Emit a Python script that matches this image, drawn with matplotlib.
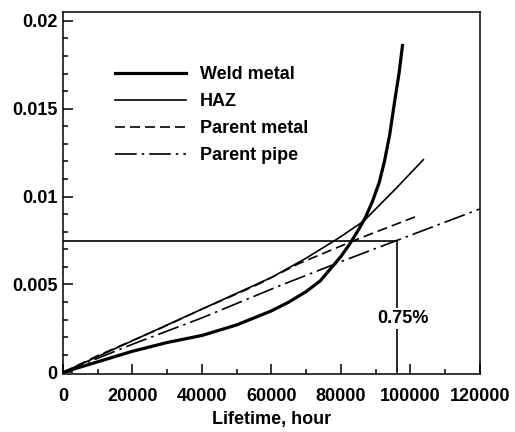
import matplotlib
matplotlib.use("Agg")
import matplotlib.pyplot as plt
import numpy as np
from matplotlib import rcParams
from matplotlib.ticker import MultipleLocator

rcParams['font.family'] = 'Liberation Sans'
rcParams['font.weight'] = 'bold'
rcParams['axes.labelweight'] = 'bold'

# creep strain vs lifetime
weld_x = [0, 5000, 10000, 20000, 30000, 40000, 45000, 50000, 55000, 60000, 65000, 70000,
          74000, 77000, 80000, 82500, 85000, 87000, 89000, 91000, 92500, 94000, 95500, 96700, 97700]
weld_y = [0, 0.0003, 0.0006, 0.0012, 0.0017, 0.0021, 0.0024, 0.0027, 0.0031, 0.0035, 0.0040, 0.0046,
          0.0052, 0.0059, 0.0066, 0.0073, 0.0081, 0.0088, 0.0097, 0.0108, 0.0120, 0.0135, 0.0155, 0.0170, 0.0186]

haz_x = [0, 20000, 40000, 60000, 70000, 79000, 86500, 96000, 103700]
haz_y = [0, 0.0018, 0.0036, 0.0054, 0.0065, 0.0076, 0.0086, 0.0105, 0.0121]

pmetal_x = [0, 10000, 28000, 40000, 55000, 68000, 85000, 102000]
pmetal_y = [0, 0.00095, 0.0025, 0.0036, 0.0049, 0.0062, 0.0076, 0.0089]

ppipe_x = [0, 20000, 40000, 62000, 80000, 96000, 120000]
ppipe_y = [0, 0.0016, 0.0031, 0.0049, 0.0063, 0.0075, 0.0093]

limit_strain = 0.0075
limit_life = 96000
limit_label = "0.75%"

tick_size = 13
line_width = 1.2

fig = plt.figure(figsize=(5.15, 4.32), dpi=100)
ax = fig.add_axes([0.1223, 0.134, 0.8097, 0.838])

ax.plot(weld_x, weld_y, color='k', lw=2.3, label='Weld metal')
ax.plot(haz_x, haz_y, color='k', lw=line_width, label='HAZ')
ax.plot(pmetal_x, pmetal_y, color='k', lw=line_width, dashes=(6, 3), label='Parent metal')
ax.plot(ppipe_x, ppipe_y, color='k', lw=line_width, dashes=(13, 3, 1.5, 3), label='Parent pipe')

# 0.75% strain limit
ax.plot([0, limit_life], [limit_strain, limit_strain], color='k', lw=line_width)
ax.plot([limit_life, limit_life], [0, limit_strain], color='k', lw=line_width)
ax.text(limit_life + 1800, 0.00305, limit_label, fontsize=tick_size, ha='center', va='center',
        bbox=dict(facecolor='white', edgecolor='none', pad=1.5))

ax.set_xlim(0, 120000)
ax.set_ylim(-0.0001, 0.0205)
ax.set_xticks([0, 20000, 40000, 60000, 80000, 100000, 120000])
ax.set_yticks([0, 0.005, 0.01, 0.015, 0.02])
ax.set_yticklabels(['0', '0.005', '0.01', '0.015', '0.02'])
ax.xaxis.set_minor_locator(MultipleLocator(10000))
ax.yaxis.set_minor_locator(MultipleLocator(0.001))
ax.tick_params(which='both', direction='in', labelsize=tick_size, width=1.1)
ax.tick_params(which='major', length=7)
ax.tick_params(which='minor', length=3.5)
ax.tick_params(axis='x', pad=10)
ax.tick_params(axis='y', pad=4)
for s in ax.spines.values():
    s.set_linewidth(1.1)

ax.set_xlabel('Lifetime, hour', fontsize=tick_size, labelpad=4)

ax.legend(loc='upper left', bbox_to_anchor=(0.125, 0.851), frameon=False, fontsize=tick_size,
          handlelength=3.9, handletextpad=0.8, labelspacing=0.55, borderpad=0, borderaxespad=0)

plt.savefig('out.png', dpi=100)
